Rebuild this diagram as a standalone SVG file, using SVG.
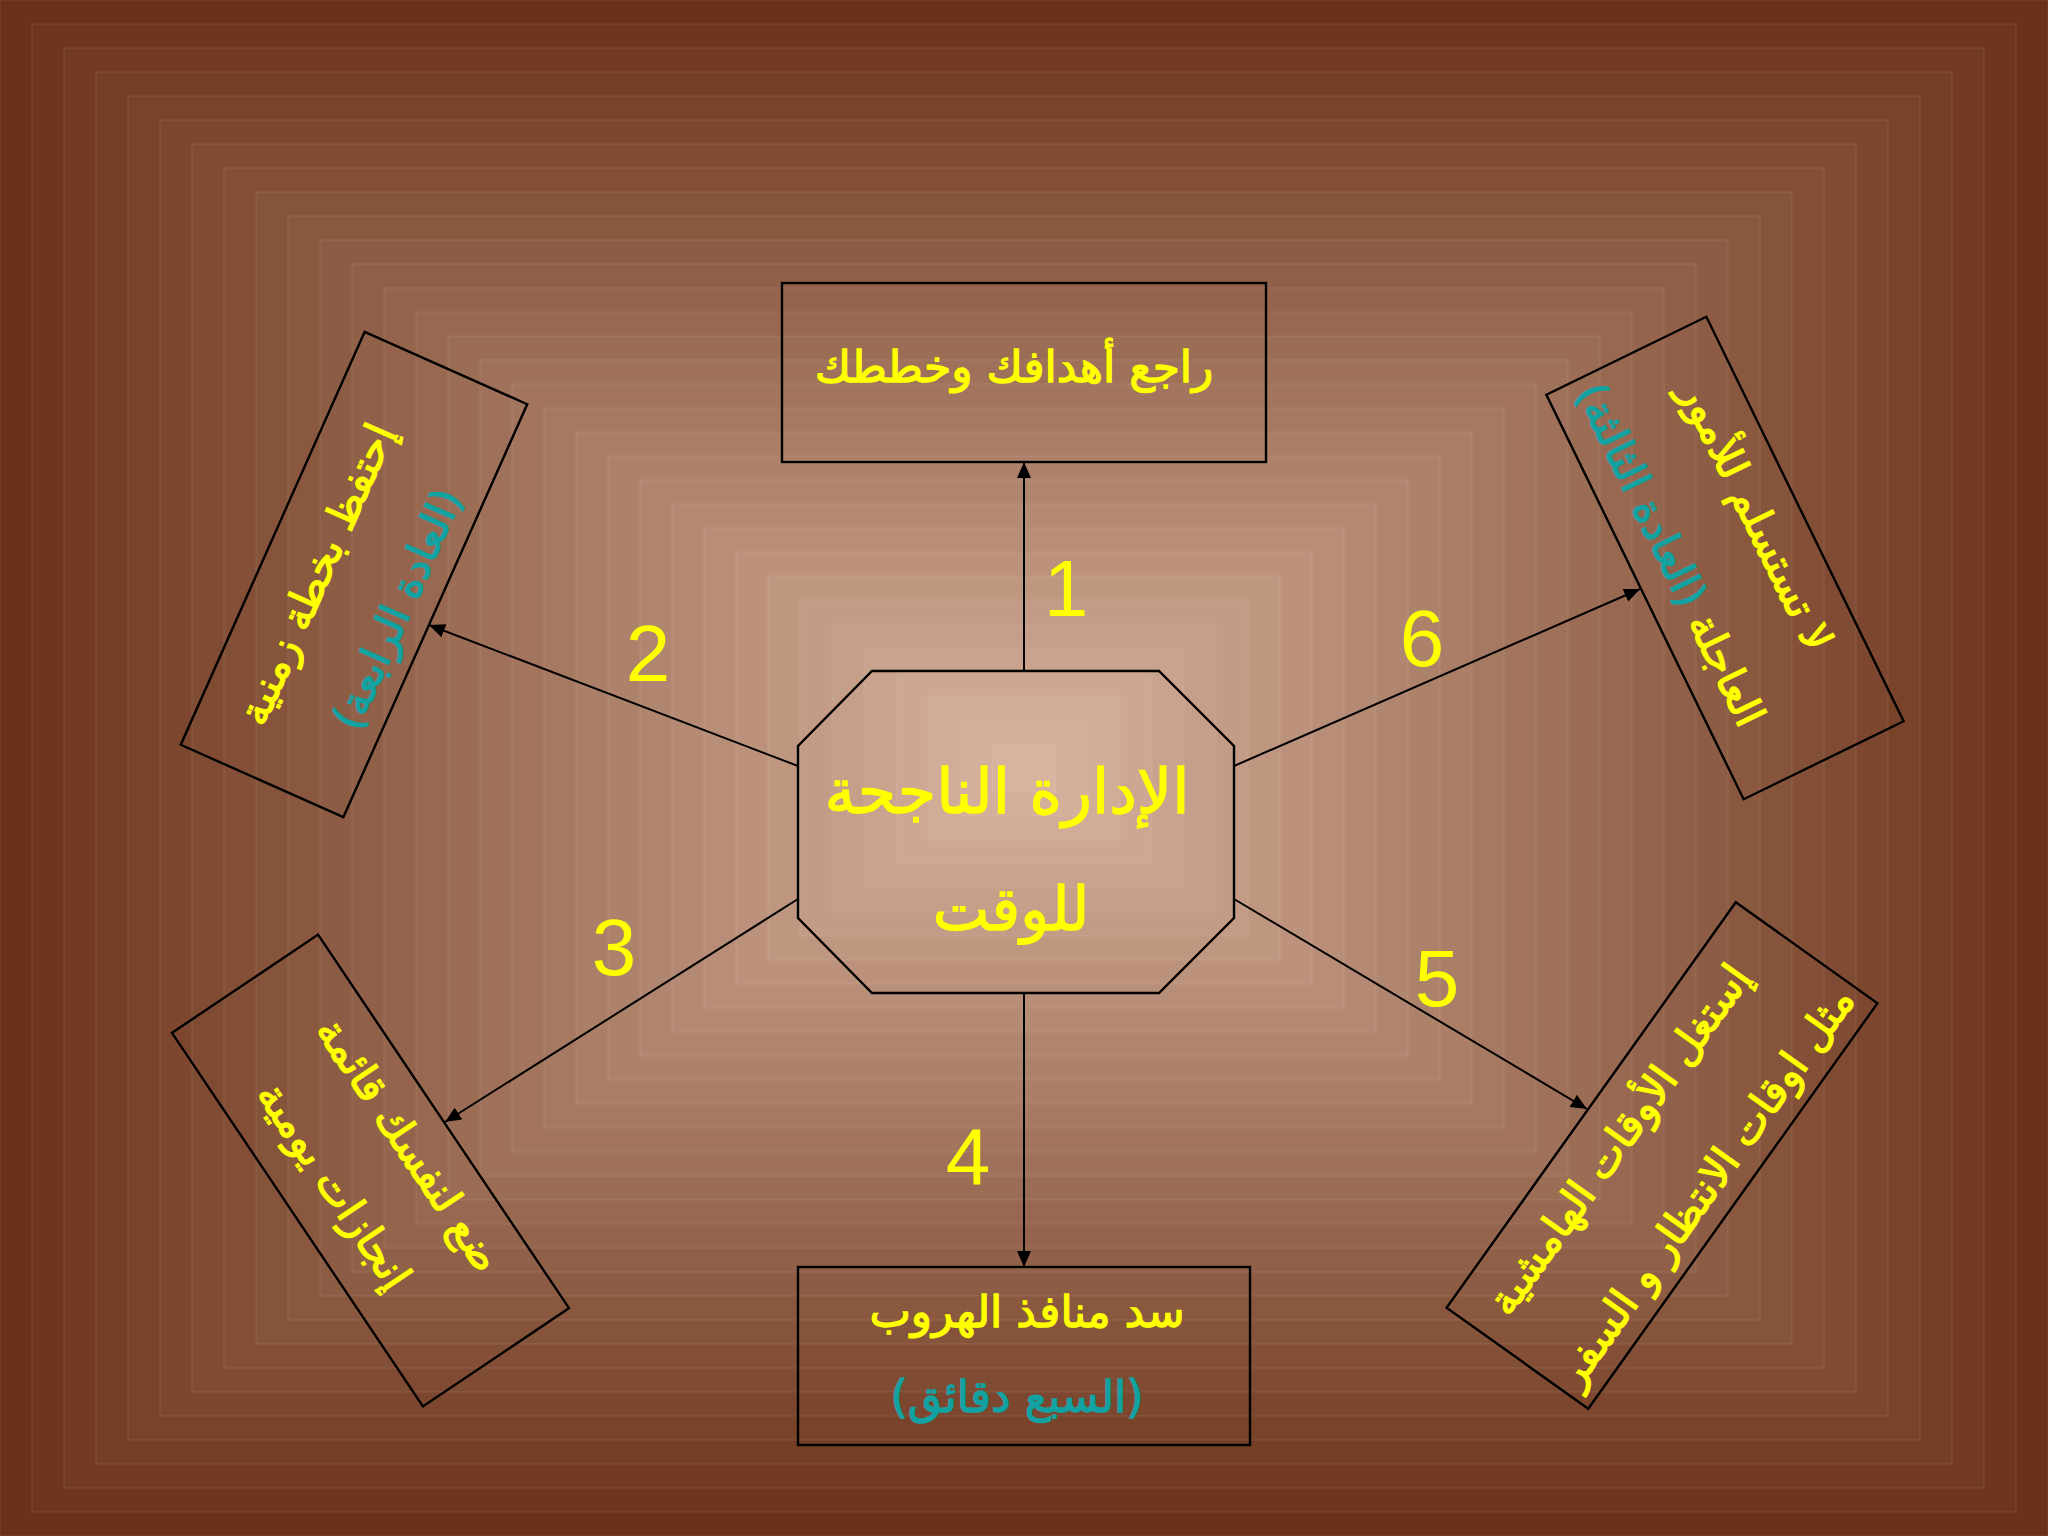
<svg xmlns="http://www.w3.org/2000/svg" width="2048" height="1536" viewBox="0 0 2048 1536">
<style>
.bg rect{stroke:#ffffff;stroke-opacity:0.10;stroke-width:1}
.box{fill:none;stroke:#000;stroke-width:2.4}
.conn{fill:none;stroke:#000;stroke-width:2}
.ar{font-family:"DejaVu Sans",sans-serif;text-anchor:middle;direction:rtl;stroke-width:1.3}
.y{fill:#ffff00;stroke:#ffff00}
.t{fill:#13a2a2;stroke:#13a2a2}
.num{font-family:"Liberation Sans",Arial,sans-serif;font-size:80px;fill:#ffff00;text-anchor:middle}
</style>
<defs>
<marker id="arrow" viewBox="0 0 16 14" markerWidth="16" markerHeight="14" refX="16" refY="7" orient="auto" markerUnits="userSpaceOnUse">
<path d="M0,0 L16,7 L0,14 z" fill="#000"/>
</marker>
</defs>
<g id="background" class="bg">
<rect x="0" y="0" width="2048" height="1536" fill="#6a3218"/>
<rect x="32" y="24" width="1984" height="1488" fill="#6e361c"/>
<rect x="64" y="48" width="1920" height="1440" fill="#713a21"/>
<rect x="96" y="72" width="1856" height="1392" fill="#753f25"/>
<rect x="128" y="96" width="1792" height="1344" fill="#784329"/>
<rect x="160" y="120" width="1728" height="1296" fill="#7c472e"/>
<rect x="192" y="144" width="1664" height="1248" fill="#7f4b32"/>
<rect x="224" y="168" width="1600" height="1200" fill="#834f37"/>
<rect x="256" y="192" width="1536" height="1152" fill="#86543b"/>
<rect x="288" y="216" width="1472" height="1104" fill="#8a583f"/>
<rect x="320" y="240" width="1408" height="1056" fill="#8d5c44"/>
<rect x="352" y="264" width="1344" height="1008" fill="#916048"/>
<rect x="384" y="288" width="1280" height="960" fill="#94644d"/>
<rect x="416" y="312" width="1216" height="912" fill="#986851"/>
<rect x="448" y="336" width="1152" height="864" fill="#9c6d55"/>
<rect x="480" y="360" width="1088" height="816" fill="#9f715a"/>
<rect x="512" y="384" width="1024" height="768" fill="#a3755e"/>
<rect x="544" y="408" width="960" height="720" fill="#a67963"/>
<rect x="576" y="432" width="896" height="672" fill="#aa7e67"/>
<rect x="608" y="456" width="832" height="624" fill="#ad826b"/>
<rect x="640" y="480" width="768" height="576" fill="#b18670"/>
<rect x="672" y="504" width="704" height="528" fill="#b48a74"/>
<rect x="704" y="528" width="640" height="480" fill="#b88e78"/>
<rect x="736" y="552" width="576" height="432" fill="#bc927d"/>
<rect x="768" y="576" width="512" height="384" fill="#bf9781"/>
<rect x="800" y="600" width="448" height="336" fill="#c39b86"/>
<rect x="832" y="624" width="384" height="288" fill="#c69f8a"/>
<rect x="864" y="648" width="320" height="240" fill="#caa38e"/>
<rect x="896" y="672" width="256" height="192" fill="#cda793"/>
<rect x="928" y="696" width="192" height="144" fill="#d1ac97"/>
<rect x="960" y="720" width="128" height="96" fill="#d4b09c"/>
<rect x="992" y="744" width="64" height="48" fill="#d8b4a0"/>
</g>
<g id="connectors">
<path class="conn" d="M1024,671 L1024,462" marker-end="url(#arrow)"/>
<path class="conn" d="M798,766 L429,625" marker-end="url(#arrow)"/>
<path class="conn" d="M798,899 L445,1122" marker-end="url(#arrow)"/>
<path class="conn" d="M1024,993 L1024,1267" marker-end="url(#arrow)"/>
<path class="conn" d="M1234,899 L1587,1109" marker-end="url(#arrow)"/>
<path class="conn" d="M1234,766 L1640,589" marker-end="url(#arrow)"/>
</g>
<g id="labels">
<text class="num" x="1066" y="616">1</text>
<text class="num" x="648" y="681">2</text>
<text class="num" x="614" y="975">3</text>
<text class="num" x="968" y="1184">4</text>
<text class="num" x="1437" y="1006">5</text>
<text class="num" x="1422" y="666">6</text>
</g>
<g id="center">
<polygon class="box" points="872,671 1159,671 1234,746 1234,918 1159,993 872,993 798,918 798,746"/>
<text class="ar y" x="1007" y="813" font-size="62">الإدارة الناجحة</text>
<text class="ar y" x="1011" y="930" font-size="60">للوقت</text>
</g>
<g id="node1">
<rect class="box" x="782" y="283" width="484" height="179"/>
<text class="ar y" x="1014" y="382" font-size="44">راجع أهدافك وخططك</text>
</g>
<g id="node2" transform="translate(354,574.5) rotate(-66)">
<rect class="box" x="-226" y="-89" width="452" height="178"/>
<text class="ar y" x="-15" y="-20" font-size="42">إحتفظ بخطة زمنية</text>
<text class="ar t" x="-14" y="68" font-size="42">(العادة الرابعة)</text>
</g>
<g id="node3" transform="translate(370.5,1170.5) rotate(56.1)">
<rect class="box" x="-225" y="-88" width="450" height="176"/>
<text class="ar y" x="0" y="-32" font-size="42">ضع لنفسك قائمة</text>
<text class="ar y" x="-8" y="53" font-size="42">إنجازات يومية</text>
</g>
<g id="node4">
<rect class="box" x="798" y="1267" width="452" height="178"/>
<text class="ar y" x="1027" y="1327" font-size="44">سد منافذ الهروب</text>
<text class="ar t" x="1017" y="1412" font-size="44">(السبع دقائق)</text>
</g>
<g id="node5" transform="translate(1662,1155.5) rotate(-54.5)">
<rect class="box" x="-249" y="-87" width="498" height="174"/>
<text class="ar y" x="-12" y="-30" font-size="42">إستغل الأوقات الهامشية</text>
<text class="ar y" x="0" y="68" font-size="42">مثل اوقات الانتظار و السفر</text>
</g>
<g id="node6" transform="translate(1725,558) rotate(64)">
<rect class="box" x="-225" y="-89" width="450" height="178"/>
<text class="ar y" x="-24" y="-32" font-size="42">لا تستسلم للأمور</text>
<text class="ar" x="-27" y="62" font-size="42"><tspan class="y">العاجلة </tspan><tspan class="t">(العادة الثالثة)</tspan></text>
</g>
</svg>
